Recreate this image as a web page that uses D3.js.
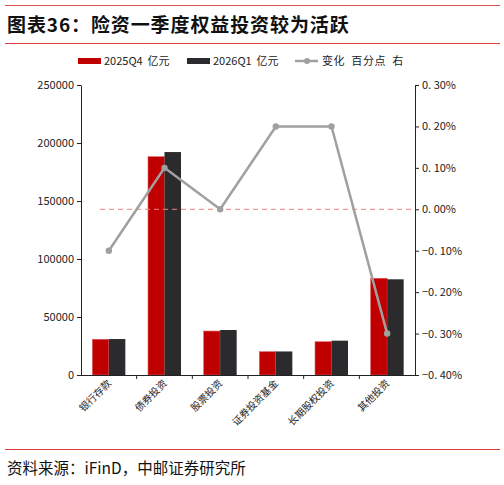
<!DOCTYPE html>
<html><head><meta charset="utf-8">
<script src="https://cdn.jsdelivr.net/npm/d3@7"></script>
<style>body{margin:0;background:#fff}svg{display:block}text{font-family:"Noto Sans CJK SC","DejaVu Sans",sans-serif}</style>
</head><body>
<svg id="c" width="504" height="485"></svg>
<script>
const categories=["银行存款","债券投资","股票投资","证券投资基金","长期股权投资","其他投资"];
const q4=[30800,188200,37900,20100,28700,83400];
const q1=[31000,192200,38800,20300,29600,82500];
const change=[-0.10,0.10,0.00,0.20,0.20,-0.30];
const leftTicks=[0,50000,100000,150000,200000,250000];
const rightTicks=[-0.4,-0.3,-0.2,-0.1,0,0.1,0.2,0.3];
const seriesNames=["2025Q4 亿元","2026Q1 亿元","变化 百分点 右"];

const svg=d3.select("#c");
const L=81,R=415,T=85,B=375;
const x=d3.scaleBand().domain(categories).range([L,R]);
const yL=d3.scaleLinear().domain([0,250000]).range([B,T]);
const yR=d3.scaleLinear().domain([-0.4,0.3]).range([B,T]);
const bw=16.5;

// header lines & title
svg.append("line").attr("x1",5).attr("x2",500).attr("y1",5.5).attr("y2",5.5).attr("stroke","#d9534f").attr("stroke-width",1);
svg.append("text").attr("x",7).attr("y",32).attr("font-size",19).attr("font-weight","bold").attr("letter-spacing",0.9).attr("fill","#111").text("图表36：险资一季度权益投资较为活跃");
svg.append("line").attr("x1",5).attr("x2",500).attr("y1",43.5).attr("y2",43.5).attr("stroke","#d93a3a").attr("stroke-width",1);
svg.append("line").attr("x1",5).attr("x2",500).attr("y1",449.5).attr("y2",449.5).attr("stroke","#d93a3a").attr("stroke-width",1);
svg.append("text").attr("x",7).attr("y",474).attr("font-size",15.5).attr("fill","#111").text("资料来源：iFinD，中邮证券研究所");

// legend
const lg=svg.append("g").attr("font-size",11).attr("fill","#222");
lg.append("rect").attr("x",78).attr("y",58).attr("width",23).attr("height",6).attr("fill","#c00000");
lg.append("text").attr("x",104).attr("y",65).text(seriesNames[0].replace(" ","\u00a0\u00a0"));
lg.append("rect").attr("x",187).attr("y",58).attr("width",23).attr("height",6).attr("fill","#2b2b2d");
lg.append("text").attr("x",213).attr("y",65).text(seriesNames[1].replace(" ","\u00a0\u00a0"));
lg.append("line").attr("x1",295).attr("x2",318).attr("y1",61).attr("y2",61).attr("stroke","#a0a0a0").attr("stroke-width",2.5);
lg.append("circle").attr("cx",307).attr("cy",61).attr("r",3).attr("fill","#a0a0a0");
lg.append("text").attr("x",322).attr("y",65).attr("letter-spacing",0.6).text(seriesNames[2].replace(/ /g,"\u00a0\u00a0"));

// bars
categories.forEach((c,i)=>{
  const cx=x(c)+x.bandwidth()/2;
  svg.append("rect").attr("x",cx-bw).attr("y",yL(q4[i])).attr("width",bw).attr("height",B-yL(q4[i])).attr("fill","#c00000").attr("stroke","#e06060").attr("stroke-width",0.6);
  svg.append("rect").attr("x",cx).attr("y",yL(q1[i])).attr("width",bw).attr("height",B-yL(q1[i])).attr("fill","#2b2b2d");
});

// zero dashed line
svg.append("line").attr("x1",100).attr("x2",R).attr("y1",yR(0)).attr("y2",yR(0)).attr("stroke","#f08080").attr("stroke-width",1).attr("stroke-dasharray","5,4");

// axes
const fmtR=d=>(d<0?"−":"")+Math.abs(d).toFixed(2).replace(".",". ")+"%";
const gl=svg.append("g").attr("transform",`translate(${L},0)`).call(d3.axisLeft(yL).tickValues(leftTicks).tickSize(4).tickSizeOuter(0).tickFormat(d3.format("d")));
const gr=svg.append("g").attr("transform",`translate(${R},0)`).call(d3.axisRight(yR).tickValues(rightTicks).tickSize(4).tickSizeOuter(0).tickFormat(fmtR));
[gl,gr].forEach(g=>{g.selectAll("text").attr("font-size",11).attr("fill","#222").attr("font-family","Liberation Sans, Arial, sans-serif");g.selectAll("path,line").attr("stroke","#222");});
// x axis
const gx=svg.append("g");
gx.append("line").attr("x1",L-4).attr("x2",R+4).attr("y1",B+0.5).attr("y2",B+0.5).attr("stroke","#222");
categories.forEach((c,i)=>{ if(i>0) gx.append("line").attr("x1",x(c)).attr("x2",x(c)).attr("y1",B).attr("y2",B+4).attr("stroke","#222"); });
categories.forEach(c=>{
  const cx=x(c)+x.bandwidth()/2;
  gx.append("text").attr("transform",`translate(${cx+3},${B+9}) rotate(-45)`).attr("text-anchor","end").attr("font-size",10).attr("fill","#222").text(c);
});

// line
const line=d3.line().x((d,i)=>x(categories[i])+x.bandwidth()/2).y(d=>yR(d));
svg.append("path").datum(change).attr("d",line).attr("fill","none").attr("stroke","#a0a0a0").attr("stroke-width",2.5);
svg.selectAll(".pt").data(change).enter().append("circle").attr("cx",(d,i)=>x(categories[i])+x.bandwidth()/2).attr("cy",d=>yR(d)).attr("r",3.2).attr("fill","#a0a0a0");
</script>
</body></html>
